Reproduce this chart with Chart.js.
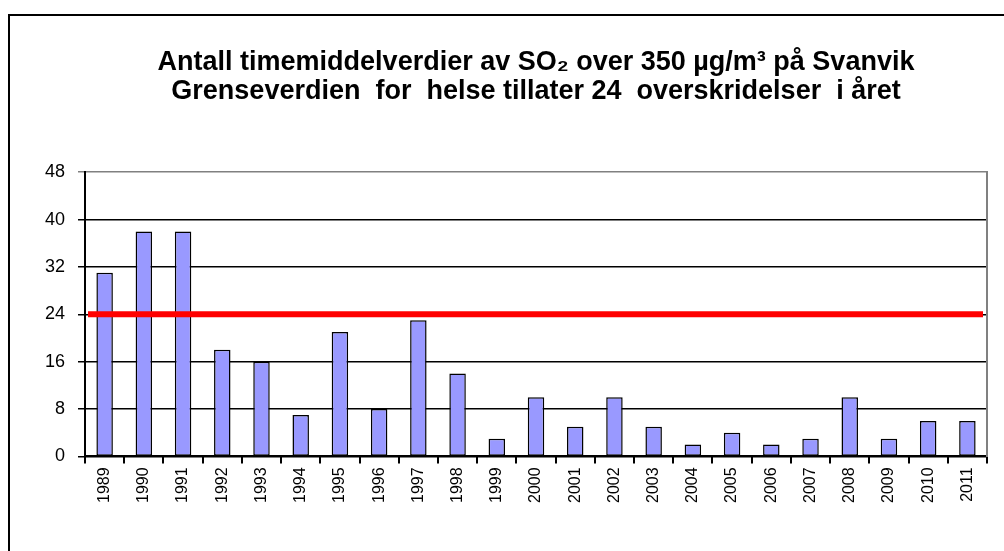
<!DOCTYPE html>
<html>
<head>
<meta charset="utf-8">
<script src="https://cdn.jsdelivr.net/npm/chart.js@4.4.0/dist/chart.umd.min.js"></script>
<style>
  html, body { margin: 0; padding: 0; background: #fff; }
  #wrap { position: relative; width: 1004px; height: 551px; }
  #frame { position: absolute; left: 8px; top: 14px; right: -4px; bottom: -4px; border-left: 2px solid #000; border-top: 2px solid #000; }
  canvas { position: absolute; left: 0; top: 0; }
</style>
</head>
<body>
<div id="wrap">
  <div id="frame"></div>
  <canvas id="c" width="1004" height="551"></canvas>
</div>
<script>
const years = ['1989','1990','1991','1992','1993','1994','1995','1996','1997','1998','1999','2000','2001','2002','2003','2004','2005','2006','2007','2008','2009','2010','2011'];
const exceedances = [31,38,38,18,16,7,21,8,23,14,3,10,5,10,5,2,4,2,3,10,3,6,6];
const limitValue = [24];
const yTicks = [0,8,16,24,32,40,48];
const titleLines = ['Antall timemiddelverdier av SO\u2082 over 350 \u00b5g/m\u00b3 p\u00e5 Svanvik', 'Grenseverdien  for  helse tillater 24  overskridelser  i \u00e5ret'];

Chart.defaults.font.family = 'Arial, "Liberation Sans", sans-serif';
Chart.defaults.color = '#000';

// Horizontal limit line drawn through the y scale at the limit value
const limitLinePlugin = {
  id: 'limitLine',
  afterDatasetsDraw(chart) {
    const { ctx, chartArea, scales } = chart;
    const y = scales.y.getPixelForValue(limitValue[0]);
    ctx.save();
    ctx.strokeStyle = '#FF0000';
    ctx.lineWidth = 6;
    ctx.lineCap = 'butt';
    ctx.beginPath();
    ctx.moveTo(chartArea.left + 3, y);
    ctx.lineTo(chartArea.right - 4, y);
    ctx.stroke();
    ctx.restore();
  }
};

new Chart(document.getElementById('c'), {
  type: 'bar',
  data: {
    labels: years,
    datasets: [
      {
        data: exceedances,
        backgroundColor: '#9999FF',
        borderColor: '#000',
        borderWidth: 1.5,
        borderSkipped: false
      }
    ]
  },
  plugins: [limitLinePlugin],
  options: {
    responsive: false,
    animation: false,
    categoryPercentage: 1,
    barPercentage: 0.42,
    layout: { padding: { left: 32, right: 9, top: 49, bottom: 44 } },
    plugins: {
      legend: { display: false },
      tooltip: { enabled: false },
      title: {
        display: true,
        fullSize: false,
        text: titleLines,
        font: { size: 27, weight: 'bold', lineHeight: 1.04 },
        color: '#000',
        padding: { top: 0, bottom: 67 }
      }
    },
    scales: {
      x: {
        type: 'category',
        offset: true,
        grid: { offset: true, drawOnChartArea: false, color: '#000', lineWidth: 2, tickLength: 7 },
        border: { color: '#000', width: 2 },
        ticks: { minRotation: 90, maxRotation: 90, font: { size: 16 }, padding: 4, color: '#000' }
      },
      y: {
        min: 0,
        max: 48,
        afterBuildTicks: (axis) => { axis.ticks = yTicks.map(v => ({ value: v })); },
        grid: {
          color: (ctx) => ctx.tick && ctx.tick.value === 48 ? '#808080' : '#000',
          lineWidth: 1.5,
          tickLength: 7
        },
        border: { color: '#000', width: 2 },
        ticks: { font: { size: 18 }, padding: 13, color: '#000' }
      },
      y2: {
        position: 'right',
        min: 0,
        max: 48,
        grid: { display: false },
        border: { color: '#808080', width: 2 },
        ticks: { display: false }
      }
    }
  }
});
</script>
</body>
</html>
